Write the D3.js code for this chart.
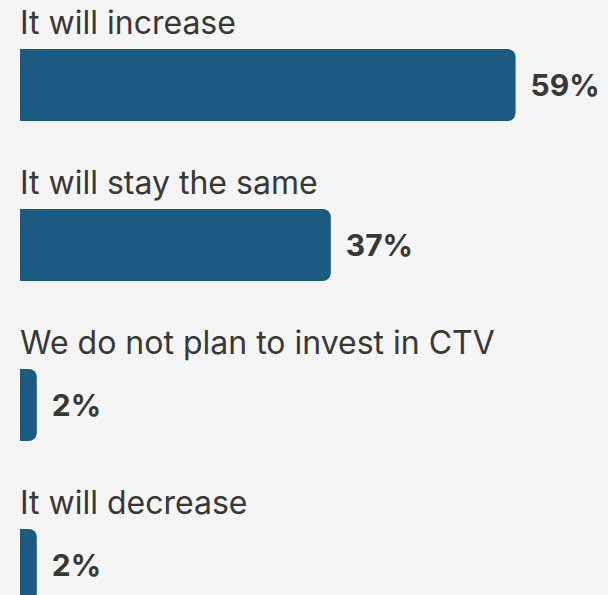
<!DOCTYPE html>
<html>
<head>
<meta charset="utf-8">
<script src="https://cdn.jsdelivr.net/npm/d3@7"></script>
<style>
  html, body { margin: 0; padding: 0; background: #f5f5f5; }
  svg { display: block; }
</style>
</head>
<body>
<script>
// Survey answers and their shares (percent)
const categories = [
  "It will increase",
  "It will stay the same",
  "We do not plan to invest in CTV",
  "It will decrease"
];
const values = [59, 37, 2, 2];
const valueLabels = ["59%", "37%", "2%", "2%"];

const W = 608, H = 595;
const barColor = "#1d5a83";
const textColor = "#383838";
const radius = 8;

const svg = d3.select("body").append("svg")
  .attr("width", W).attr("height", H);

svg.append("rect").attr("width", W).attr("height", H).attr("fill", "#f5f5f5");

const x = d3.scaleLinear().domain([0, 100]).range([20, 860]);
const y = d3.scaleBand().domain(categories).range([0, 640]);

const rows = categories.map((c, i) => ({ c, v: values[i], label: valueLabels[i] }));

// Bar with square left end and rounded right end
function barPath(x0, x1, top, h, r) {
  const rr = Math.min(r, (x1 - x0), h / 2);
  return `M${x0},${top}H${x1 - rr}A${rr},${rr} 0 0 1 ${x1},${top + rr}` +
         `V${top + h - rr}A${rr},${rr} 0 0 1 ${x1 - rr},${top + h}H${x0}Z`;
}

const g = svg.selectAll("g.row").data(rows).join("g").attr("class", "row")
  .attr("transform", d => `translate(0,${y(d.c)})`);

g.append("text")
  .attr("x", x(0))
  .attr("y", 34)
  .attr("fill", textColor)
  .style("font-family", "Inter, 'Noto Sans', sans-serif")
  .style("font-size", "32px")
  .style("font-weight", 400)
  .text(d => d.c);

g.append("path")
  .attr("d", d => barPath(x(0), x(d.v), 49, 72, radius))
  .attr("fill", barColor);

g.append("text")
  .attr("x", d => x(d.v) + 15)
  .attr("y", 85)
  .attr("dy", "0.36em")
  .attr("fill", textColor)
  .style("font-family", "Inter, 'Noto Sans', sans-serif")
  .style("font-size", "30px")
  .style("font-weight", 700)
  .text(d => d.label);
</script>
</body>
</html>
